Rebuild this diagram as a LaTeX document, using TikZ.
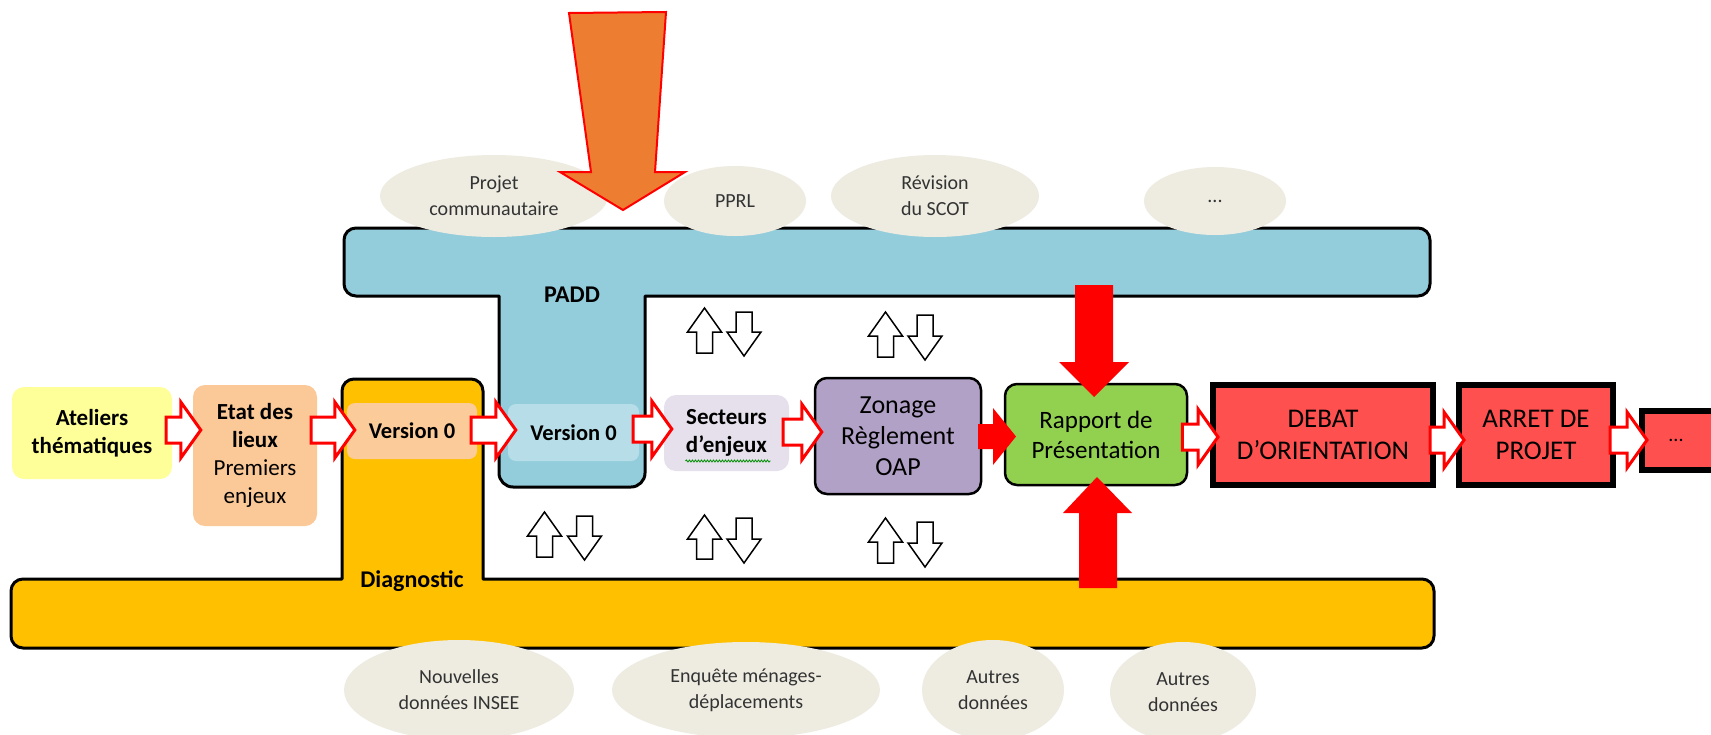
\documentclass[tikz,border=0pt]{standalone}
\usepackage{fontspec}
\setmainfont{Carlito}
\usetikzlibrary{calc,shapes.geometric,decorations.pathmorphing}
\definecolor{yel}{HTML}{FFFF99}
\definecolor{peach}{HTML}{FBC897}
\definecolor{peachlt}{HTML}{FCCB9A}
\definecolor{diag}{HTML}{FFC000}
\definecolor{padd}{HTML}{93CDDC}
\definecolor{paddlt}{HTML}{B7DEE8}
\definecolor{lav}{HTML}{E5E0EC}
\definecolor{zon}{HTML}{B2A1C7}
\definecolor{rap}{HTML}{92D050}
\definecolor{deb}{HTML}{FF5050}
\definecolor{ellc}{HTML}{EEECE1}
\definecolor{orng}{HTML}{ED7D31}
\definecolor{elltxt}{HTML}{333333}

\newcommand\hollowR[3]{%
  \path[redhollow] let \p1=($(#1.east)+(-6,0)$), \p2=($(#2.west)+(8,0)$), \p3=(0,#3) in
  (\x1,\y3+13pt) -- (\x2-20pt,\y3+13pt) -- (\x2-20pt,\y3+28pt) -- (\x2,\y3)
  -- (\x2-20pt,\y3-28pt) -- (\x2-20pt,\y3-13pt) -- (\x1,\y3-13pt) -- cycle;}
\newcommand\uparrowW[3]{%
  \draw[bwarrow] (#1,#2) -- ({#1+17},{#2+24}) -- ({#1+8},{#2+24}) -- ({#1+8},#3)
  -- ({#1-8},#3) -- ({#1-8},{#2+24}) -- ({#1-17},{#2+24}) -- cycle;}
\newcommand\downarrowW[3]{%
  \draw[bwarrow] ({#1-8},#2) -- ({#1+8},#2) -- ({#1+8},{#3-24}) -- ({#1+17},{#3-24})
  -- (#1,#3) -- ({#1-17},{#3-24}) -- ({#1-8},{#3-24}) -- cycle;}

\begin{document}
\begin{tikzpicture}[x=1pt,y=-1pt,
  tshape/.style={draw=black,line width=3pt,line join=round},
  pbox/.style={rectangle,rounded corners=12pt,inner sep=0pt,align=center,
    font=\fontsize{23}{28}\selectfont},
  bigbox/.style={rectangle,draw=black,line width=6pt,fill=deb,inner sep=0pt,
    align=center,font=\fontsize{27}{32}\selectfont},
  ell/.style={ellipse,fill=ellc,inner sep=0pt,align=center,text=elltxt,
    font=\fontsize{20}{26}\selectfont},
  redhollow/.style={draw=red,line width=3pt,fill=white,line join=miter},
  bwarrow/.style={draw=black,line width=1.5pt,fill=white,line join=miter},
  lbl/.style={font=\bfseries\fontsize{24}{28}\selectfont,anchor=base}]
\useasboundingbox (0,0) rectangle (1711,734);
\clip (0,0) rectangle (1711,734);
\fill[white] (0,0) rectangle (1711,734);

% PADD T-shape
\draw[tshape,fill=padd] (499,296) -- (356,296) arc[start angle=90,end angle=180,radius=12]
  -- (344,240) arc[start angle=180,end angle=270,radius=12]
  -- (1418,228) arc[start angle=270,end angle=360,radius=12]
  -- (1430,284) arc[start angle=0,end angle=90,radius=12]
  -- (645,296) -- (645,473) arc[start angle=0,end angle=90,radius=14]
  -- (513,487) arc[start angle=90,end angle=180,radius=14] -- cycle;
% Diagnostic T-shape
\draw[tshape,fill=diag] (342,579) -- (342,391) arc[start angle=180,end angle=270,radius=12]
  -- (471,379) arc[start angle=270,end angle=360,radius=12]
  -- (483,579) -- (1422,579) arc[start angle=270,end angle=360,radius=12]
  -- (1434,636) arc[start angle=0,end angle=90,radius=12]
  -- (23,648) arc[start angle=90,end angle=180,radius=12]
  -- (11,591) arc[start angle=180,end angle=270,radius=12] -- cycle;
\node[lbl] (paddlbl) at (572,302) {PADD};
\node[lbl] (diaglbl) at (412,587) {Diagnostic};

% top ellipses
\node[ell,minimum width=228,minimum height=82] (projet) at (494,196) {Projet\\communautaire};
\node[ell,minimum width=142,minimum height=70] (pprl) at (735,201) {PPRL};
\node[ell,minimum width=208,minimum height=82] (scot) at (935,196) {Révision\\du SCOT};
\node[ell,minimum width=142,minimum height=68] (etc1) at (1215,201) {...};

% orange arrow
\draw[fill=orng,draw=red,line width=2pt,line join=miter]
  (569,13) -- (666,12) -- (655,172) -- (685,172) -- (623,210) -- (560,172) -- (591,172) -- cycle;

% bottom ellipses
\node[ell,minimum width=230,minimum height=100] (insee) at (459,690) {Nouvelles\\données INSEE};
\node[ell,minimum width=268,minimum height=96] (enq) at (746,690) {Enquête ménages-\\déplacements};
\node[ell,minimum width=142,minimum height=100] (aut1) at (993,690) {Autres\\données};
\node[ell,minimum width=146,minimum height=100] (aut2) at (1183,692) {Autres\\données};

% process boxes
\node[pbox,fill=yel,minimum width=160,minimum height=92,font=\bfseries\fontsize{23}{28}\selectfont]
  (atel) at (92,433) {Ateliers\\thématiques};
\node[pbox,fill=peach,minimum width=124,minimum height=141] (etat) at (255,455.5)
  {{\bfseries Etat des}\\{\bfseries lieux}\\Premiers\\enjeux};
\node[pbox,fill=peachlt,rounded corners=8pt,minimum width=130,minimum height=56,
  font=\bfseries\fontsize{22.5}{27}\selectfont] (v0a) at (412,431) {Version 0};
\node[pbox,fill=paddlt,rounded corners=8pt,minimum width=131,minimum height=57,
  font=\bfseries\fontsize{22.5}{27}\selectfont] (v0b) at (573.5,432.5) {Version 0};
\node[pbox,fill=lav,minimum width=125,minimum height=76,
  font=\bfseries\fontsize{23}{28}\selectfont] (sect) at (726.5,433) {Secteurs\\d’enjeux};
\draw[green!55!black,line width=0.8pt,decorate,decoration={snake,amplitude=1,segment length=3}]
  ($(sect.center)+(-41,28)$) -- ($(sect.center)+(44,28)$);
\node[pbox,draw=black,line width=2.5pt,fill=zon,minimum width=166,minimum height=116,
  font=\fontsize{26}{31}\selectfont] (zon) at (898,436) {Zonage\\Règlement\\OAP};
\node[pbox,draw=black,line width=2.5pt,fill=rap,minimum width=182,minimum height=101,
  font=\fontsize{25}{30}\selectfont] (rap) at (1096,434.5) {Rapport de\\Présentation};
\node[bigbox,minimum width=220,minimum height=100] (debat) at (1323,435) {DEBAT\\D’ORIENTATION};
\node[bigbox,minimum width=154,minimum height=100] (arret) at (1536,435) {ARRET DE\\PROJET};
\node[bigbox,minimum width=120,minimum height=59] (etc) at (1702,440.5) {};
\node[font=\fontsize{20}{24}\selectfont] (etctxt) at ($(etc.west)+(37,0)$) {...};

% red hollow arrows
\hollowR{atel}{etat}{430}
\hollowR{etat}{v0a}{430}
\hollowR{v0a}{v0b}{430}
\hollowR{v0b}{sect}{429}
\hollowR{sect}{zon}{432}
\hollowR{rap}{debat}{437}
\hollowR{debat}{arret}{440}
\hollowR{arret}{etc}{440}

% red solid arrows
\fill[red] (978,424) -- (993,424) -- (993,408) -- (1016,436.5) -- (993,465) -- (993,449) -- (978,449) -- cycle;
\coordinate (rtop) at (1094,397);
\coordinate (rbot) at (1097,477);
\fill[red] (1075,285) -- (1113,285) -- (1113,362) -- (1129,362) -- (rtop) -- (1059,362) -- (1075,362) -- cycle;
\fill[red] (1079,588) -- (1117,588) -- (1117,513) -- (1132,513) -- (rbot) -- (1063,513) -- (1079,513) -- cycle;

% black up/down arrows
\uparrowW{704.5}{308}{353}\downarrowW{744}{312}{356}
\uparrowW{885.5}{312}{357}\downarrowW{925}{315}{360}
\uparrowW{544.5}{512}{557}\downarrowW{584.5}{516}{560}
\uparrowW{704.5}{515}{559}\downarrowW{744}{518}{563}
\uparrowW{885.5}{518}{563}\downarrowW{925}{522}{567}
\end{tikzpicture}
\end{document}
